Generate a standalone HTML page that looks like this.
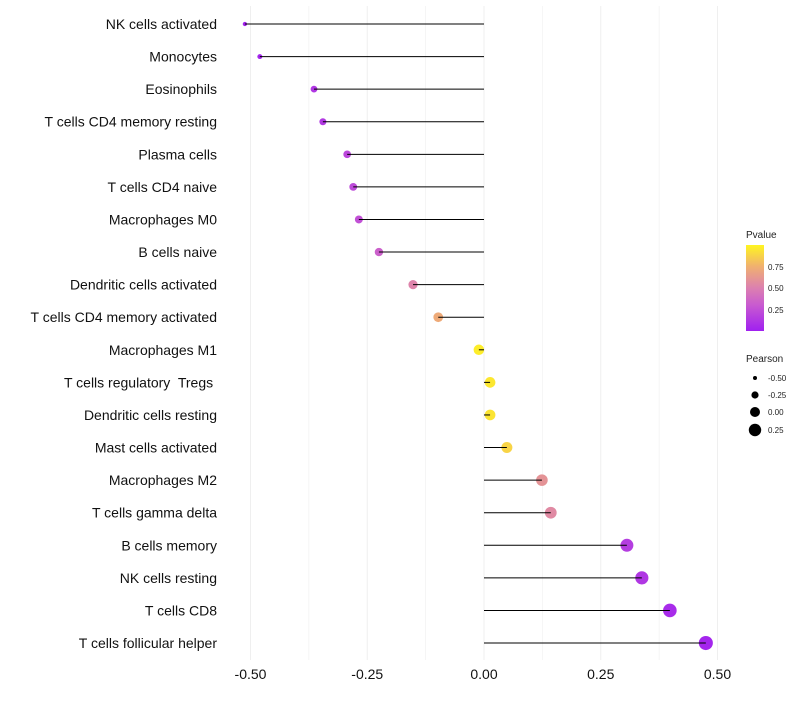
<!DOCTYPE html>
<html><head><meta charset="utf-8"><style>
body{margin:0;background:#fff;font-family:"Liberation Sans",sans-serif;}
text{white-space:pre;}
</style></head><body>
<svg id="chart" width="800" height="700" xmlns="http://www.w3.org/2000/svg">
<defs><linearGradient id="pg" x1="0" y1="1" x2="0" y2="0">
<stop offset="0" stop-color="#A020F0"/><stop offset="0.3" stop-color="#C85AD0"/><stop offset="0.5" stop-color="#DC80B0"/><stop offset="0.75" stop-color="#F0B070"/><stop offset="1" stop-color="#FFF520"/></linearGradient></defs>
<g id="grid"></g><g id="marks"></g><g id="labels"></g>
<g>
<text x="746" y="238" font-size="10" fill="#222">Pvalue</text>
<rect x="746" y="245" width="18" height="86" fill="url(#pg)"/>
<text x="768" y="270" font-size="8" fill="#222">0.75</text>
<text x="768" y="291" font-size="8" fill="#222">0.50</text>
<text x="768" y="313" font-size="8" fill="#222">0.25</text>
</g>
<g>
<text x="746" y="362" font-size="10" fill="#222">Pearson</text>
<circle cx="755" cy="378" r="2" fill="#000"/><text x="768" y="381" font-size="8" fill="#222">-0.50</text>
<circle cx="755" cy="395" r="3.6" fill="#000"/><text x="768" y="398" font-size="8" fill="#222">-0.25</text>
<circle cx="755" cy="412" r="5" fill="#000"/><text x="768" y="415" font-size="8" fill="#222">0.00</text>
<circle cx="755" cy="430" r="6.2" fill="#000"/><text x="768" y="433" font-size="8" fill="#222">0.25</text>
</g>
</svg>
<script>
const categories=["NK cells activated","Monocytes","Eosinophils","T cells CD4 memory resting","Plasma cells","T cells CD4 naive","Macrophages M0","B cells naive","Dendritic cells activated","T cells CD4 memory activated","Macrophages M1","T cells regulatory  Tregs ","Dendritic cells resting","Mast cells activated","Macrophages M2","T cells gamma delta","B cells memory","NK cells resting","T cells CD8","T cells follicular helper"];
const pearson=[-0.512,-0.48,-0.364,-0.345,-0.293,-0.28,-0.268,-0.225,-0.152,-0.098,-0.011,0.013,0.013,0.049,0.124,0.143,0.306,0.338,0.398,0.475];
const pvalues=[0.02,0.03,0.12,0.13,0.2,0.22,0.25,0.33,0.52,0.72,0.97,0.95,0.94,0.88,0.6,0.55,0.15,0.12,0.06,0.03];
const tickValues=[-0.5,-0.25,0,0.25,0.5];
const tickLabels=["-0.50","-0.25","0.00","0.25","0.50"];
const NS="http://www.w3.org/2000/svg";
const x=v=>484+v*467;
const y=i=>24+i*32.58;
const rad=v=>Math.sqrt(Math.max(3,28+45.5*v));
const stops=[[0,[160,32,240]],[0.3,[200,90,208]],[0.5,[220,128,176]],[0.75,[240,176,112]],[1,[255,245,32]]];
function col(p){for(let i=1;i<stops.length;i++){if(p<=stops[i][0]){const a=stops[i-1],b=stops[i],t=(p-a[0])/(b[0]-a[0]);return "rgb("+a[1].map((c,k)=>Math.round(c+(b[1][k]-c)*t)).join(",")+")";}}return "rgb(255,245,32)";}
function mk(t,a,p){const e=document.createElementNS(NS,t);for(const k in a)e.setAttribute(k,a[k]);p.appendChild(e);return e;}
const grid=document.getElementById("grid"),marks=document.getElementById("marks"),labels=document.getElementById("labels");
for(let v=-0.5;v<=0.501;v+=0.125){const g=mk("line",{x1:x(v),x2:x(v),y1:6,y2:660,stroke:"#efefef","stroke-width":Math.abs((v*4)%1)<0.01?1:0.6},grid);

}
tickValues.forEach((v,i)=>{const t=mk("text",{x:x(v),y:679,"text-anchor":"middle","font-size":14,fill:"#111"},labels);t.textContent=tickLabels[i];

});
categories.forEach((c,i)=>{
const t=mk("text",{x:217,y:y(i)+5,"text-anchor":"end","font-size":14,fill:"#111"},labels);t.textContent=c;


const d=mk("circle",{cx:x(pearson[i]),cy:y(i),r:rad(pearson[i]),fill:col(pvalues[i])},marks);


const l=mk("line",{x1:x(0),x2:x(pearson[i]),y1:y(i),y2:y(i),stroke:"#000","stroke-width":1},marks);


});
</script>
</body></html>
